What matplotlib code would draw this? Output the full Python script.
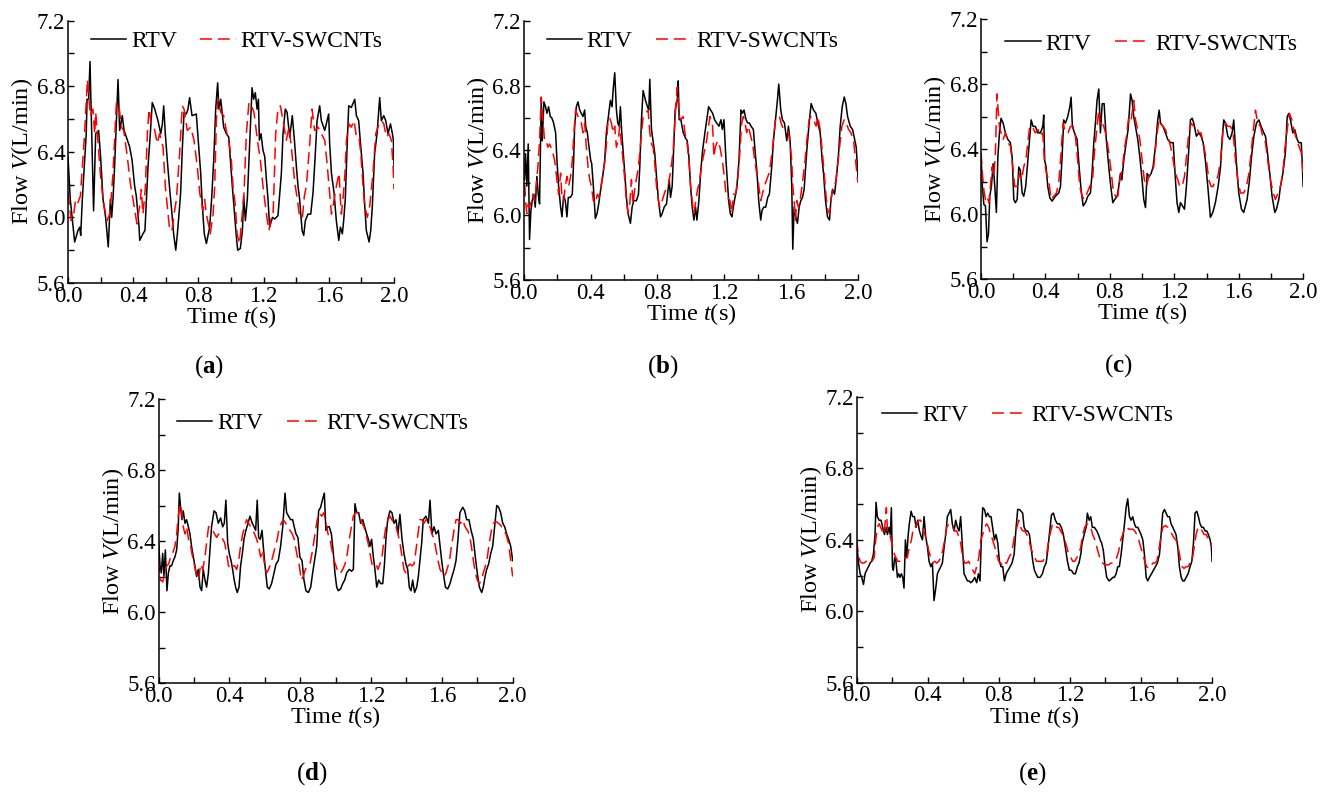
import matplotlib
matplotlib.use('Agg')
import matplotlib.pyplot as plt
from matplotlib.ticker import MultipleLocator

# panel (a)
a_t_rtv = [0.000, 0.014, 0.041, 0.061, 0.072, 0.078, 0.088, 0.102, 0.112, 0.117, 0.127, 0.135, 0.157, 0.170, 0.188,
           0.200, 0.215, 0.231, 0.247, 0.260, 0.268, 0.276, 0.286, 0.294, 0.307, 0.317, 0.333, 0.344, 0.358, 0.378,
           0.393, 0.409, 0.419, 0.436, 0.440, 0.460, 0.472, 0.481, 0.491, 0.505, 0.517, 0.532, 0.552, 0.569, 0.579,
           0.587, 0.597, 0.609, 0.624, 0.638, 0.648, 0.661, 0.671, 0.681, 0.691, 0.701, 0.712, 0.726, 0.736, 0.746,
           0.761, 0.787, 0.802, 0.814, 0.824, 0.836, 0.849, 0.861, 0.869, 0.881, 0.894, 0.906, 0.918, 0.926, 0.937,
           0.955, 0.971, 0.986, 0.996, 1.008, 1.022, 1.033, 1.041, 1.057, 1.070, 1.078, 1.088, 1.100, 1.110, 1.119,
           1.129, 1.139, 1.149, 1.160, 1.168, 1.174, 1.184, 1.196, 1.207, 1.217, 1.227, 1.237, 1.254, 1.268, 1.288,
           1.299, 1.309, 1.319, 1.333, 1.344, 1.360, 1.376, 1.389, 1.401, 1.411, 1.421, 1.436, 1.446, 1.456, 1.472,
           1.489, 1.503, 1.515, 1.528, 1.544, 1.554, 1.575, 1.599, 1.605, 1.616, 1.632, 1.646, 1.661, 1.671, 1.683,
           1.691, 1.701, 1.712, 1.722, 1.738, 1.759, 1.769, 1.783, 1.796, 1.810, 1.818, 1.830, 1.847, 1.857, 1.867,
           1.881, 1.896, 1.912, 1.922, 1.937, 1.949, 1.963, 1.978, 1.990, 1.996, 2.000]
a_rtv = [6.37, 6.11, 5.85, 5.92, 5.94, 5.89, 6.11, 6.35, 6.51, 6.72, 6.72, 6.95, 6.04, 6.51, 6.53,
         6.37, 6.11, 6.00, 5.82, 6.11, 6.00, 6.11, 6.31, 6.51, 6.84, 6.53, 6.62, 6.53, 6.49, 6.43,
         6.35, 6.19, 6.13, 5.94, 5.86, 5.90, 5.92, 6.11, 6.31, 6.51, 6.70, 6.66, 6.59, 6.51, 6.57,
         6.68, 6.51, 6.35, 6.17, 6.02, 5.90, 5.80, 5.90, 6.02, 6.15, 6.41, 6.64, 6.63, 6.66, 6.73,
         6.62, 6.63, 6.43, 6.27, 6.07, 5.90, 5.84, 5.90, 5.94, 6.11, 6.35, 6.66, 6.82, 6.66, 6.72,
         6.55, 6.51, 6.49, 6.35, 6.19, 6.02, 5.88, 5.80, 5.81, 5.92, 6.13, 5.98, 6.11, 6.35, 6.55,
         6.79, 6.72, 6.76, 6.66, 6.72, 6.47, 6.51, 6.41, 6.37, 6.23, 6.11, 5.94, 6.00, 5.99, 6.01,
         6.15, 6.27, 6.51, 6.66, 6.64, 6.49, 6.62, 6.47, 6.31, 6.19, 6.11, 5.92, 5.89, 5.98, 6.02,
         6.02, 6.15, 6.35, 6.59, 6.68, 6.59, 6.53, 6.63, 6.45, 6.27, 6.15, 5.98, 5.86, 5.94, 5.90,
         5.98, 6.11, 6.43, 6.68, 6.67, 6.72, 6.62, 6.59, 6.43, 6.27, 6.11, 5.92, 5.85, 5.92, 6.07,
         6.39, 6.51, 6.73, 6.59, 6.62, 6.59, 6.51, 6.57, 6.51, 6.47, 6.31]
a_t_cnt = [0.000, 0.020, 0.035, 0.047, 0.061, 0.076, 0.088, 0.102, 0.119, 0.137, 0.153, 0.164, 0.170, 0.188, 0.200,
           0.215, 0.231, 0.239, 0.256, 0.266, 0.276, 0.286, 0.297, 0.313, 0.327, 0.342, 0.364, 0.382, 0.399, 0.423,
           0.440, 0.450, 0.460, 0.474, 0.487, 0.497, 0.511, 0.528, 0.548, 0.562, 0.583, 0.597, 0.609, 0.624, 0.638,
           0.654, 0.665, 0.685, 0.701, 0.712, 0.732, 0.753, 0.773, 0.793, 0.808, 0.828, 0.838, 0.849, 0.873, 0.890,
           0.900, 0.910, 0.920, 0.937, 0.955, 0.971, 0.992, 1.002, 1.012, 1.027, 1.037, 1.053, 1.067, 1.080, 1.094,
           1.110, 1.125, 1.141, 1.162, 1.180, 1.196, 1.211, 1.223, 1.233, 1.247, 1.258, 1.264, 1.274, 1.288, 1.303,
           1.319, 1.339, 1.356, 1.372, 1.391, 1.407, 1.421, 1.438, 1.450, 1.462, 1.483, 1.497, 1.513, 1.534, 1.554,
           1.575, 1.591, 1.605, 1.616, 1.626, 1.646, 1.663, 1.671, 1.677, 1.687, 1.699, 1.708, 1.724, 1.738, 1.755,
           1.769, 1.785, 1.796, 1.810, 1.820, 1.836, 1.851, 1.871, 1.888, 1.908, 1.922, 1.937, 1.953, 1.969, 1.984,
           1.994, 2.000]
a_cnt = [6.15, 5.98, 6.02, 6.11, 6.09, 6.13, 6.31, 6.51, 6.84, 6.62, 6.66, 6.51, 6.64, 6.41, 6.25,
         6.11, 6.02, 5.98, 6.02, 6.13, 6.27, 6.47, 6.70, 6.68, 6.55, 6.53, 6.37, 6.21, 6.11, 5.96,
         6.07, 6.17, 6.02, 6.17, 6.51, 6.66, 6.57, 6.55, 6.45, 6.51, 6.43, 6.19, 6.07, 5.92, 5.92,
         6.04, 6.11, 6.39, 6.68, 6.66, 6.53, 6.55, 6.47, 6.31, 6.15, 6.04, 6.11, 6.02, 5.90, 6.02,
         6.19, 6.59, 6.72, 6.64, 6.62, 6.53, 6.43, 6.35, 6.19, 6.07, 5.90, 5.84, 6.00, 6.15, 6.51,
         6.70, 6.68, 6.64, 6.47, 6.35, 6.19, 6.07, 5.98, 5.92, 6.00, 6.02, 6.19, 6.51, 6.66, 6.68,
         6.59, 6.47, 6.55, 6.41, 6.21, 6.11, 6.00, 6.00, 6.13, 6.19, 6.45, 6.66, 6.53, 6.55, 6.51,
         6.47, 6.31, 6.15, 6.02, 6.07, 6.19, 6.27, 6.11, 6.02, 6.11, 6.27, 6.47, 6.57, 6.55, 6.59,
         6.49, 6.49, 6.39, 6.19, 6.07, 6.00, 6.07, 6.27, 6.51, 6.57, 6.59, 6.57, 6.49, 6.51, 6.47,
         6.31, 6.17]

# panel (b)
b_t_rtv = [0.004, 0.010, 0.018, 0.026, 0.034, 0.042, 0.050, 0.060, 0.068, 0.078, 0.086, 0.094, 0.104, 0.110, 0.120,
           0.130, 0.138, 0.148, 0.158, 0.168, 0.178, 0.190, 0.198, 0.208, 0.220, 0.228, 0.238, 0.248, 0.258, 0.266,
           0.278, 0.290, 0.298, 0.304, 0.314, 0.324, 0.334, 0.344, 0.354, 0.364, 0.370, 0.380, 0.390, 0.400, 0.406,
           0.416, 0.428, 0.438, 0.448, 0.460, 0.472, 0.484, 0.494, 0.508, 0.518, 0.528, 0.534, 0.544, 0.554, 0.562,
           0.570, 0.578, 0.586, 0.594, 0.604, 0.614, 0.624, 0.638, 0.648, 0.658, 0.674, 0.686, 0.694, 0.704, 0.714,
           0.728, 0.740, 0.748, 0.754, 0.764, 0.776, 0.784, 0.794, 0.806, 0.818, 0.828, 0.840, 0.854, 0.870, 0.878,
           0.888, 0.894, 0.906, 0.918, 0.924, 0.930, 0.940, 0.954, 0.966, 0.978, 0.988, 0.998, 1.008, 1.018, 1.028,
           1.036, 1.048, 1.058, 1.070, 1.084, 1.106, 1.118, 1.130, 1.142, 1.154, 1.168, 1.180, 1.188, 1.198, 1.210,
           1.220, 1.226, 1.236, 1.246, 1.254, 1.264, 1.274, 1.288, 1.300, 1.308, 1.318, 1.330, 1.340, 1.350, 1.360,
           1.374, 1.384, 1.396, 1.406, 1.418, 1.426, 1.436, 1.448, 1.460, 1.470, 1.484, 1.494, 1.510, 1.518, 1.526,
           1.538, 1.548, 1.560, 1.574, 1.584, 1.594, 1.604, 1.610, 1.618, 1.628, 1.638, 1.648, 1.658, 1.668, 1.678,
           1.694, 1.708, 1.720, 1.734, 1.748, 1.760, 1.774, 1.786, 1.794, 1.806, 1.818, 1.830, 1.838, 1.848, 1.860,
           1.870, 1.884, 1.894, 1.906, 1.918, 1.928, 1.938, 1.954, 1.968, 1.978, 1.990, 2.000]
b_rtv = [6.22, 6.38, 6.18, 6.44, 5.85, 6.03, 6.09, 6.13, 6.05, 6.24, 6.13, 6.07, 6.71, 6.46, 6.70,
         6.67, 6.63, 6.67, 6.61, 6.60, 6.57, 6.51, 6.34, 6.18, 6.05, 5.99, 6.12, 6.09, 5.99, 6.11,
         6.11, 6.13, 6.34, 6.55, 6.67, 6.70, 6.65, 6.63, 6.61, 6.65, 6.55, 6.51, 6.42, 6.34, 6.32,
         6.18, 5.98, 6.01, 6.07, 6.16, 6.24, 6.34, 6.51, 6.63, 6.71, 6.67, 6.77, 6.88, 6.65, 6.57,
         6.55, 6.67, 6.51, 6.40, 6.26, 6.11, 6.01, 5.95, 6.05, 6.09, 6.09, 6.13, 6.30, 6.59, 6.77,
         6.71, 6.67, 6.65, 6.84, 6.53, 6.44, 6.38, 6.24, 6.09, 5.99, 6.01, 6.05, 6.07, 6.22, 6.11,
         6.18, 6.34, 6.65, 6.71, 6.83, 6.59, 6.59, 6.51, 6.48, 6.46, 6.36, 6.18, 6.05, 5.97, 6.05,
         5.97, 6.09, 6.26, 6.40, 6.51, 6.67, 6.65, 6.63, 6.59, 6.57, 6.55, 6.59, 6.53, 6.59, 6.34,
         6.18, 6.09, 6.01, 5.99, 6.05, 6.11, 6.16, 6.34, 6.65, 6.63, 6.65, 6.59, 6.57, 6.57, 6.55,
         6.53, 6.40, 6.26, 6.09, 5.97, 6.03, 6.05, 6.05, 6.11, 6.13, 6.30, 6.46, 6.63, 6.71, 6.81,
         6.65, 6.59, 6.57, 6.46, 6.55, 6.46, 6.18, 5.79, 6.05, 5.99, 5.95, 6.05, 6.09, 6.11, 6.16,
         6.40, 6.57, 6.69, 6.65, 6.63, 6.57, 6.51, 6.34, 6.26, 6.09, 5.99, 5.97, 6.09, 6.16, 6.13,
         6.22, 6.38, 6.55, 6.67, 6.73, 6.69, 6.61, 6.55, 6.53, 6.48, 6.42, 6.24]
b_t_cnt = [0.000, 0.010, 0.018, 0.026, 0.034, 0.044, 0.054, 0.064, 0.074, 0.084, 0.094, 0.104, 0.114, 0.124, 0.134,
           0.144, 0.154, 0.170, 0.184, 0.198, 0.208, 0.220, 0.228, 0.238, 0.248, 0.258, 0.268, 0.280, 0.290, 0.300,
           0.310, 0.324, 0.334, 0.344, 0.354, 0.364, 0.374, 0.384, 0.394, 0.404, 0.416, 0.428, 0.440, 0.450, 0.462,
           0.474, 0.486, 0.496, 0.504, 0.514, 0.524, 0.534, 0.544, 0.554, 0.564, 0.574, 0.584, 0.594, 0.604, 0.614,
           0.624, 0.634, 0.644, 0.654, 0.666, 0.680, 0.690, 0.702, 0.714, 0.730, 0.744, 0.754, 0.764, 0.774, 0.784,
           0.794, 0.806, 0.814, 0.828, 0.840, 0.850, 0.864, 0.880, 0.894, 0.908, 0.918, 0.930, 0.940, 0.954, 0.964,
           0.978, 0.988, 0.998, 1.010, 1.018, 1.030, 1.040, 1.050, 1.064, 1.074, 1.094, 1.114, 1.130, 1.138, 1.146,
           1.160, 1.174, 1.188, 1.200, 1.210, 1.220, 1.234, 1.246, 1.254, 1.268, 1.280, 1.290, 1.304, 1.314, 1.324,
           1.334, 1.344, 1.360, 1.370, 1.382, 1.394, 1.404, 1.418, 1.428, 1.440, 1.454, 1.468, 1.480, 1.494, 1.506,
           1.518, 1.530, 1.540, 1.554, 1.574, 1.584, 1.594, 1.604, 1.610, 1.618, 1.626, 1.634, 1.644, 1.654, 1.670,
           1.684, 1.694, 1.708, 1.720, 1.734, 1.750, 1.760, 1.774, 1.786, 1.798, 1.810, 1.820, 1.830, 1.840, 1.854,
           1.866, 1.878, 1.890, 1.904, 1.918, 1.930, 1.944, 1.958, 1.974, 1.986, 2.000]
b_cnt = [6.30, 6.09, 6.01, 6.07, 6.05, 6.09, 6.13, 6.09, 6.18, 6.30, 6.46, 6.73, 6.59, 6.46, 6.46,
         6.42, 6.44, 6.40, 6.34, 6.22, 6.13, 6.26, 6.11, 6.09, 6.18, 6.24, 6.18, 6.24, 6.34, 6.51,
         6.65, 6.61, 6.59, 6.57, 6.51, 6.57, 6.42, 6.30, 6.22, 6.18, 6.09, 6.07, 6.13, 6.11, 6.18,
         6.26, 6.34, 6.46, 6.59, 6.60, 6.57, 6.51, 6.55, 6.42, 6.46, 6.55, 6.44, 6.34, 6.22, 6.09,
         6.01, 6.07, 6.22, 6.07, 6.18, 6.26, 6.34, 6.48, 6.61, 6.63, 6.65, 6.51, 6.44, 6.42, 6.32,
         6.18, 6.09, 6.05, 6.09, 6.13, 6.16, 6.18, 6.28, 6.40, 6.65, 6.79, 6.61, 6.59, 6.61, 6.51,
         6.44, 6.34, 6.18, 6.07, 6.01, 6.09, 6.16, 6.20, 6.30, 6.36, 6.46, 6.61, 6.55, 6.36, 6.42,
         6.46, 6.42, 6.34, 6.24, 6.13, 6.11, 6.09, 6.01, 6.13, 6.13, 6.22, 6.34, 6.57, 6.61, 6.57,
         6.51, 6.55, 6.48, 6.44, 6.34, 6.26, 6.20, 6.09, 6.13, 6.18, 6.22, 6.26, 6.34, 6.46, 6.59,
         6.61, 6.61, 6.57, 6.53, 6.53, 6.51, 6.44, 6.34, 6.18, 6.09, 5.97, 6.09, 6.05, 6.09, 6.22,
         6.34, 6.46, 6.59, 6.61, 6.59, 6.55, 6.61, 6.53, 6.40, 6.26, 6.11, 6.03, 6.01, 6.11, 6.18,
         6.20, 6.30, 6.42, 6.55, 6.59, 6.57, 6.53, 6.51, 6.46, 6.34, 6.20]

# panel (c)
c_t_rtv = [0.000, 0.008, 0.017, 0.027, 0.037, 0.046, 0.054, 0.064, 0.075, 0.085, 0.095, 0.104, 0.114, 0.124, 0.137,
           0.151, 0.166, 0.182, 0.193, 0.203, 0.213, 0.224, 0.234, 0.244, 0.255, 0.265, 0.277, 0.290, 0.300, 0.311,
           0.323, 0.337, 0.352, 0.369, 0.383, 0.389, 0.395, 0.404, 0.414, 0.427, 0.441, 0.462, 0.482, 0.493, 0.503,
           0.513, 0.524, 0.538, 0.551, 0.559, 0.567, 0.580, 0.596, 0.609, 0.621, 0.634, 0.648, 0.663, 0.679, 0.689,
           0.700, 0.710, 0.720, 0.731, 0.741, 0.752, 0.764, 0.776, 0.789, 0.803, 0.818, 0.830, 0.845, 0.855, 0.865,
           0.874, 0.886, 0.901, 0.913, 0.928, 0.938, 0.948, 0.959, 0.973, 0.986, 1.000, 1.010, 1.021, 1.031, 1.043,
           1.056, 1.068, 1.083, 1.097, 1.106, 1.114, 1.130, 1.145, 1.159, 1.176, 1.193, 1.207, 1.217, 1.228, 1.238,
           1.251, 1.263, 1.275, 1.290, 1.300, 1.311, 1.321, 1.337, 1.352, 1.366, 1.379, 1.393, 1.408, 1.424, 1.439,
           1.455, 1.472, 1.487, 1.497, 1.507, 1.518, 1.532, 1.545, 1.559, 1.569, 1.586, 1.600, 1.617, 1.631, 1.652,
           1.667, 1.679, 1.694, 1.710, 1.725, 1.739, 1.756, 1.766, 1.776, 1.793, 1.807, 1.824, 1.834, 1.849, 1.859,
           1.874, 1.890, 1.901, 1.911, 1.921, 1.936, 1.948, 1.963, 1.973, 1.988, 1.994, 2.000]
c_rtv = [6.35, 6.17, 6.06, 6.05, 5.83, 5.88, 6.11, 6.17, 6.31, 6.17, 6.01, 6.35, 6.50, 6.59, 6.56,
         6.50, 6.46, 6.44, 6.35, 6.09, 6.07, 6.09, 6.29, 6.27, 6.13, 6.11, 6.17, 6.33, 6.46, 6.58,
         6.54, 6.54, 6.50, 6.50, 6.54, 6.61, 6.33, 6.29, 6.17, 6.10, 6.08, 6.11, 6.13, 6.17, 6.35,
         6.58, 6.56, 6.60, 6.66, 6.72, 6.54, 6.50, 6.46, 6.29, 6.15, 6.05, 6.07, 6.11, 6.13, 6.25,
         6.44, 6.56, 6.70, 6.77, 6.50, 6.68, 6.68, 6.48, 6.33, 6.19, 6.07, 6.09, 6.11, 6.17, 6.25,
         6.21, 6.33, 6.44, 6.52, 6.74, 6.70, 6.60, 6.54, 6.46, 6.35, 6.21, 6.09, 6.04, 6.25, 6.23,
         6.25, 6.29, 6.42, 6.58, 6.64, 6.56, 6.54, 6.50, 6.46, 6.44, 6.44, 6.21, 6.07, 6.01, 6.07,
         6.05, 6.03, 6.17, 6.40, 6.58, 6.59, 6.56, 6.48, 6.50, 6.48, 6.44, 6.33, 6.17, 5.98, 6.01,
         6.07, 6.17, 6.29, 6.46, 6.58, 6.56, 6.48, 6.46, 6.50, 6.58, 6.31, 6.13, 6.03, 6.01, 6.09,
         6.21, 6.35, 6.48, 6.56, 6.58, 6.54, 6.50, 6.48, 6.40, 6.25, 6.11, 6.01, 6.03, 6.09, 6.17,
         6.25, 6.38, 6.60, 6.62, 6.58, 6.50, 6.52, 6.46, 6.44, 6.44, 6.33, 6.17]
c_t_cnt = [0.000, 0.008, 0.017, 0.027, 0.037, 0.048, 0.058, 0.068, 0.079, 0.089, 0.099, 0.106, 0.114, 0.124, 0.137,
           0.151, 0.166, 0.182, 0.197, 0.209, 0.224, 0.238, 0.251, 0.265, 0.280, 0.290, 0.302, 0.317, 0.337, 0.354,
           0.369, 0.383, 0.393, 0.406, 0.420, 0.435, 0.451, 0.468, 0.482, 0.493, 0.509, 0.524, 0.540, 0.555, 0.571,
           0.586, 0.600, 0.613, 0.627, 0.642, 0.658, 0.675, 0.692, 0.704, 0.716, 0.731, 0.741, 0.752, 0.762, 0.778,
           0.793, 0.807, 0.820, 0.834, 0.849, 0.861, 0.876, 0.890, 0.903, 0.917, 0.932, 0.948, 0.959, 0.973, 0.986,
           1.000, 1.014, 1.027, 1.041, 1.056, 1.072, 1.089, 1.104, 1.114, 1.130, 1.145, 1.159, 1.176, 1.193, 1.207,
           1.222, 1.234, 1.248, 1.263, 1.275, 1.290, 1.304, 1.321, 1.337, 1.352, 1.366, 1.383, 1.400, 1.414, 1.429,
           1.441, 1.455, 1.470, 1.487, 1.503, 1.518, 1.534, 1.549, 1.565, 1.580, 1.594, 1.611, 1.631, 1.648, 1.663,
           1.677, 1.689, 1.704, 1.718, 1.735, 1.749, 1.766, 1.780, 1.797, 1.814, 1.828, 1.843, 1.859, 1.874, 1.886,
           1.901, 1.915, 1.930, 1.942, 1.959, 1.973, 1.988, 2.000]
c_cnt = [6.38, 6.25, 6.15, 6.09, 6.11, 6.07, 6.17, 6.29, 6.23, 6.38, 6.74, 6.64, 6.54, 6.50, 6.46,
         6.50, 6.44, 6.42, 6.29, 6.17, 6.17, 6.25, 6.21, 6.29, 6.35, 6.44, 6.54, 6.54, 6.50, 6.52,
         6.48, 6.50, 6.33, 6.25, 6.21, 6.09, 6.11, 6.13, 6.19, 6.33, 6.56, 6.50, 6.50, 6.54, 6.54,
         6.48, 6.33, 6.17, 6.11, 6.09, 6.13, 6.17, 6.21, 6.38, 6.50, 6.64, 6.54, 6.56, 6.54, 6.48,
         6.38, 6.27, 6.15, 6.11, 6.11, 6.21, 6.27, 6.40, 6.48, 6.60, 6.58, 6.70, 6.58, 6.52, 6.46,
         6.33, 6.21, 6.17, 6.23, 6.25, 6.29, 6.46, 6.58, 6.56, 6.54, 6.52, 6.48, 6.42, 6.33, 6.25,
         6.21, 6.17, 6.17, 6.23, 6.35, 6.50, 6.56, 6.54, 6.54, 6.50, 6.50, 6.42, 6.33, 6.21, 6.17,
         6.17, 6.21, 6.23, 6.33, 6.52, 6.56, 6.54, 6.54, 6.50, 6.33, 6.21, 6.13, 6.13, 6.17, 6.25,
         6.38, 6.50, 6.64, 6.56, 6.54, 6.48, 6.44, 6.33, 6.21, 6.13, 6.09, 6.13, 6.17, 6.25, 6.40,
         6.52, 6.62, 6.58, 6.52, 6.46, 6.42, 6.38, 6.25]

# panel (d)
d_t_rtv = [0.000, 0.008, 0.015, 0.023, 0.030, 0.038, 0.047, 0.055, 0.064, 0.073, 0.083, 0.092, 0.102, 0.111, 0.117,
           0.124, 0.132, 0.139, 0.149, 0.158, 0.168, 0.177, 0.186, 0.196, 0.205, 0.215, 0.224, 0.234, 0.243, 0.252,
           0.262, 0.271, 0.281, 0.290, 0.299, 0.313, 0.324, 0.337, 0.350, 0.362, 0.371, 0.380, 0.390, 0.399, 0.409,
           0.418, 0.427, 0.435, 0.444, 0.454, 0.463, 0.473, 0.482, 0.493, 0.505, 0.516, 0.529, 0.539, 0.548, 0.557,
           0.565, 0.574, 0.584, 0.593, 0.603, 0.614, 0.625, 0.638, 0.652, 0.663, 0.676, 0.689, 0.701, 0.714, 0.723,
           0.734, 0.746, 0.757, 0.766, 0.776, 0.787, 0.798, 0.810, 0.821, 0.832, 0.846, 0.859, 0.870, 0.881, 0.893,
           0.904, 0.915, 0.925, 0.936, 0.945, 0.955, 0.964, 0.976, 0.987, 0.996, 1.006, 1.015, 1.028, 1.040, 1.051,
           1.062, 1.077, 1.090, 1.100, 1.109, 1.119, 1.130, 1.141, 1.153, 1.164, 1.175, 1.185, 1.194, 1.203, 1.213,
           1.222, 1.232, 1.243, 1.254, 1.266, 1.275, 1.284, 1.294, 1.307, 1.318, 1.330, 1.341, 1.352, 1.363, 1.375,
           1.386, 1.397, 1.407, 1.416, 1.426, 1.435, 1.446, 1.458, 1.467, 1.476, 1.486, 1.495, 1.510, 1.524, 1.533,
           1.544, 1.556, 1.567, 1.580, 1.590, 1.599, 1.608, 1.620, 1.633, 1.646, 1.657, 1.669, 1.680, 1.691, 1.702,
           1.718, 1.729, 1.740, 1.753, 1.765, 1.778, 1.789, 1.800, 1.812, 1.825, 1.834, 1.844, 1.853, 1.864, 1.876,
           1.887, 1.898, 1.910, 1.921, 1.932, 1.944, 1.955, 1.966, 1.977, 1.989, 2.000]
d_rtv = [6.39, 6.26, 6.22, 6.33, 6.20, 6.35, 6.12, 6.22, 6.26, 6.26, 6.29, 6.31, 6.35, 6.48, 6.67,
         6.59, 6.52, 6.57, 6.50, 6.52, 6.48, 6.44, 6.37, 6.31, 6.26, 6.20, 6.24, 6.14, 6.12, 6.24,
         6.18, 6.14, 6.22, 6.35, 6.48, 6.57, 6.56, 6.50, 6.53, 6.48, 6.50, 6.63, 6.39, 6.33, 6.29,
         6.24, 6.18, 6.14, 6.11, 6.14, 6.26, 6.33, 6.41, 6.46, 6.50, 6.54, 6.50, 6.48, 6.46, 6.63,
         6.42, 6.41, 6.46, 6.35, 6.24, 6.14, 6.13, 6.16, 6.22, 6.27, 6.29, 6.37, 6.48, 6.67, 6.56,
         6.54, 6.52, 6.52, 6.48, 6.44, 6.42, 6.31, 6.29, 6.18, 6.12, 6.11, 6.14, 6.22, 6.29, 6.37,
         6.57, 6.59, 6.63, 6.67, 6.46, 6.48, 6.48, 6.44, 6.33, 6.22, 6.14, 6.12, 6.13, 6.16, 6.18,
         6.22, 6.24, 6.23, 6.24, 6.61, 6.56, 6.56, 6.50, 6.52, 6.48, 6.44, 6.41, 6.37, 6.41, 6.31,
         6.24, 6.14, 6.18, 6.16, 6.16, 6.26, 6.41, 6.52, 6.57, 6.56, 6.50, 6.52, 6.44, 6.55, 6.41,
         6.33, 6.27, 6.24, 6.14, 6.12, 6.18, 6.11, 6.14, 6.20, 6.29, 6.39, 6.52, 6.54, 6.50, 6.63,
         6.44, 6.48, 6.44, 6.46, 6.37, 6.29, 6.22, 6.14, 6.13, 6.16, 6.20, 6.24, 6.29, 6.41, 6.56,
         6.59, 6.57, 6.52, 6.52, 6.46, 6.41, 6.31, 6.22, 6.14, 6.11, 6.14, 6.20, 6.24, 6.27, 6.33,
         6.37, 6.48, 6.60, 6.59, 6.56, 6.50, 6.48, 6.44, 6.41, 6.37, 6.29]
d_t_cnt = [0.000, 0.011, 0.023, 0.034, 0.045, 0.056, 0.068, 0.079, 0.092, 0.102, 0.111, 0.121, 0.130, 0.139, 0.149,
           0.158, 0.169, 0.181, 0.192, 0.203, 0.215, 0.226, 0.237, 0.249, 0.262, 0.271, 0.282, 0.294, 0.305, 0.316,
           0.328, 0.339, 0.350, 0.362, 0.373, 0.384, 0.395, 0.407, 0.418, 0.429, 0.441, 0.452, 0.463, 0.475, 0.486,
           0.497, 0.508, 0.520, 0.531, 0.542, 0.554, 0.565, 0.576, 0.588, 0.599, 0.610, 0.621, 0.633, 0.644, 0.659,
           0.670, 0.682, 0.693, 0.704, 0.718, 0.729, 0.742, 0.755, 0.766, 0.780, 0.795, 0.806, 0.817, 0.829, 0.840,
           0.855, 0.870, 0.883, 0.896, 0.908, 0.921, 0.934, 0.945, 0.957, 0.968, 0.979, 0.991, 1.002, 1.015, 1.028,
           1.040, 1.053, 1.066, 1.077, 1.089, 1.100, 1.113, 1.124, 1.137, 1.149, 1.160, 1.171, 1.183, 1.194, 1.205,
           1.217, 1.228, 1.239, 1.250, 1.262, 1.273, 1.284, 1.296, 1.307, 1.318, 1.330, 1.341, 1.352, 1.363, 1.375,
           1.386, 1.397, 1.409, 1.420, 1.431, 1.443, 1.454, 1.465, 1.476, 1.488, 1.499, 1.510, 1.522, 1.533, 1.544,
           1.556, 1.567, 1.578, 1.590, 1.601, 1.612, 1.623, 1.635, 1.646, 1.657, 1.669, 1.680, 1.691, 1.706, 1.718,
           1.731, 1.744, 1.755, 1.767, 1.778, 1.789, 1.800, 1.812, 1.823, 1.834, 1.846, 1.857, 1.868, 1.880, 1.891,
           1.906, 1.919, 1.932, 1.947, 1.962, 1.976, 1.989, 2.000]
d_cnt = [6.29, 6.18, 6.17, 6.22, 6.26, 6.27, 6.31, 6.33, 6.37, 6.44, 6.54, 6.61, 6.57, 6.48, 6.44,
         6.48, 6.41, 6.37, 6.31, 6.26, 6.20, 6.18, 6.27, 6.24, 6.31, 6.39, 6.48, 6.48, 6.46, 6.44,
         6.42, 6.44, 6.44, 6.41, 6.39, 6.33, 6.26, 6.24, 6.26, 6.26, 6.24, 6.29, 6.37, 6.44, 6.48,
         6.52, 6.50, 6.48, 6.46, 6.44, 6.41, 6.37, 6.31, 6.35, 6.26, 6.22, 6.24, 6.27, 6.31, 6.37,
         6.41, 6.48, 6.50, 6.52, 6.50, 6.48, 6.46, 6.44, 6.41, 6.33, 6.26, 6.18, 6.20, 6.24, 6.26,
         6.27, 6.35, 6.44, 6.52, 6.56, 6.54, 6.56, 6.50, 6.44, 6.41, 6.35, 6.29, 6.26, 6.22, 6.22,
         6.24, 6.27, 6.33, 6.41, 6.48, 6.54, 6.56, 6.56, 6.54, 6.50, 6.48, 6.44, 6.39, 6.33, 6.27,
         6.26, 6.27, 6.24, 6.27, 6.31, 6.41, 6.48, 6.52, 6.54, 6.52, 6.50, 6.48, 6.44, 6.39, 6.31,
         6.24, 6.22, 6.26, 6.27, 6.26, 6.27, 6.35, 6.44, 6.52, 6.52, 6.50, 6.52, 6.50, 6.48, 6.44,
         6.41, 6.35, 6.29, 6.24, 6.22, 6.20, 6.22, 6.26, 6.31, 6.39, 6.46, 6.52, 6.52, 6.50, 6.52,
         6.48, 6.46, 6.44, 6.37, 6.29, 6.22, 6.18, 6.16, 6.18, 6.22, 6.26, 6.31, 6.39, 6.46, 6.50,
         6.51, 6.50, 6.49, 6.46, 6.44, 6.39, 6.29, 6.20]

# panel (e)
e_t_rtv = [0.000, 0.009, 0.019, 0.028, 0.038, 0.047, 0.056, 0.066, 0.075, 0.084, 0.094, 0.103, 0.109, 0.116, 0.126,
           0.137, 0.146, 0.156, 0.165, 0.173, 0.182, 0.189, 0.195, 0.201, 0.206, 0.214, 0.221, 0.229, 0.236, 0.244,
           0.251, 0.259, 0.266, 0.274, 0.281, 0.289, 0.296, 0.306, 0.315, 0.325, 0.334, 0.343, 0.353, 0.362, 0.370,
           0.379, 0.388, 0.398, 0.407, 0.417, 0.426, 0.435, 0.445, 0.454, 0.463, 0.473, 0.482, 0.492, 0.501, 0.510,
           0.520, 0.529, 0.538, 0.548, 0.557, 0.567, 0.576, 0.585, 0.595, 0.604, 0.614, 0.623, 0.632, 0.642, 0.653,
           0.664, 0.675, 0.685, 0.694, 0.702, 0.709, 0.719, 0.728, 0.737, 0.747, 0.756, 0.765, 0.775, 0.784, 0.794,
           0.803, 0.812, 0.822, 0.831, 0.841, 0.852, 0.863, 0.874, 0.886, 0.897, 0.906, 0.916, 0.925, 0.934, 0.942,
           0.953, 0.962, 0.972, 0.981, 0.991, 1.000, 1.009, 1.019, 1.032, 1.045, 1.056, 1.066, 1.075, 1.084, 1.096,
           1.107, 1.118, 1.129, 1.141, 1.152, 1.163, 1.174, 1.186, 1.197, 1.208, 1.220, 1.231, 1.242, 1.251, 1.261,
           1.268, 1.280, 1.291, 1.298, 1.308, 1.317, 1.326, 1.338, 1.351, 1.360, 1.370, 1.379, 1.388, 1.398, 1.407,
           1.420, 1.432, 1.441, 1.450, 1.460, 1.469, 1.478, 1.488, 1.497, 1.507, 1.516, 1.525, 1.535, 1.544, 1.553,
           1.563, 1.572, 1.582, 1.591, 1.600, 1.610, 1.619, 1.629, 1.638, 1.647, 1.659, 1.670, 1.681, 1.692, 1.704,
           1.713, 1.722, 1.732, 1.741, 1.750, 1.760, 1.769, 1.779, 1.788, 1.797, 1.807, 1.816, 1.826, 1.835, 1.844,
           1.854, 1.865, 1.876, 1.886, 1.895, 1.904, 1.914, 1.923, 1.932, 1.942, 1.951, 1.961, 1.970, 1.979, 1.989,
           1.996, 2.000]
e_rtv = [6.38, 6.28, 6.21, 6.19, 6.15, 6.21, 6.23, 6.25, 6.27, 6.28, 6.32, 6.43, 6.61, 6.53, 6.51,
         6.51, 6.47, 6.43, 6.47, 6.43, 6.47, 6.43, 6.58, 6.25, 6.23, 6.30, 6.28, 6.19, 6.21, 6.19,
         6.21, 6.19, 6.13, 6.40, 6.30, 6.42, 6.49, 6.56, 6.53, 6.53, 6.47, 6.51, 6.45, 6.42, 6.40,
         6.53, 6.42, 6.36, 6.28, 6.25, 6.27, 6.06, 6.13, 6.21, 6.23, 6.25, 6.27, 6.36, 6.43, 6.53,
         6.55, 6.57, 6.49, 6.45, 6.51, 6.47, 6.45, 6.53, 6.36, 6.21, 6.19, 6.17, 6.17, 6.16, 6.17,
         6.19, 6.16, 6.21, 6.17, 6.43, 6.58, 6.57, 6.53, 6.55, 6.53, 6.53, 6.47, 6.40, 6.43, 6.38,
         6.28, 6.25, 6.25, 6.17, 6.21, 6.23, 6.25, 6.27, 6.32, 6.47, 6.57, 6.57, 6.56, 6.55, 6.47,
         6.45, 6.45, 6.43, 6.36, 6.28, 6.23, 6.21, 6.19, 6.19, 6.21, 6.25, 6.27, 6.34, 6.43, 6.54,
         6.55, 6.51, 6.49, 6.49, 6.47, 6.43, 6.36, 6.28, 6.23, 6.23, 6.21, 6.21, 6.25, 6.27, 6.32,
         6.38, 6.43, 6.47, 6.55, 6.51, 6.53, 6.47, 6.47, 6.45, 6.43, 6.40, 6.38, 6.34, 6.25, 6.19,
         6.17, 6.18, 6.19, 6.19, 6.21, 6.25, 6.25, 6.32, 6.40, 6.49, 6.58, 6.63, 6.53, 6.51, 6.53,
         6.49, 6.47, 6.47, 6.45, 6.43, 6.40, 6.32, 6.19, 6.17, 6.19, 6.21, 6.23, 6.25, 6.27, 6.32,
         6.43, 6.55, 6.57, 6.55, 6.53, 6.53, 6.49, 6.47, 6.45, 6.43, 6.36, 6.25, 6.19, 6.17, 6.17,
         6.19, 6.21, 6.25, 6.28, 6.38, 6.55, 6.56, 6.53, 6.49, 6.47, 6.47, 6.45, 6.45, 6.43, 6.40,
         6.36, 6.28]
e_t_cnt = [0.000, 0.009, 0.019, 0.030, 0.041, 0.053, 0.064, 0.075, 0.086, 0.098, 0.107, 0.116, 0.126, 0.135, 0.144,
           0.154, 0.161, 0.167, 0.173, 0.182, 0.193, 0.203, 0.212, 0.221, 0.231, 0.240, 0.251, 0.263, 0.274, 0.285,
           0.296, 0.308, 0.319, 0.328, 0.338, 0.349, 0.360, 0.371, 0.383, 0.394, 0.405, 0.417, 0.428, 0.439, 0.450,
           0.462, 0.473, 0.484, 0.495, 0.507, 0.518, 0.529, 0.540, 0.552, 0.563, 0.574, 0.585, 0.597, 0.608, 0.619,
           0.630, 0.642, 0.653, 0.664, 0.675, 0.687, 0.698, 0.709, 0.720, 0.732, 0.743, 0.754, 0.765, 0.777, 0.788,
           0.799, 0.811, 0.822, 0.833, 0.844, 0.856, 0.867, 0.878, 0.889, 0.901, 0.912, 0.923, 0.934, 0.946, 0.957,
           0.968, 0.979, 0.991, 1.002, 1.013, 1.024, 1.036, 1.047, 1.058, 1.069, 1.081, 1.092, 1.103, 1.114, 1.126,
           1.137, 1.148, 1.159, 1.171, 1.182, 1.193, 1.205, 1.216, 1.227, 1.238, 1.250, 1.261, 1.272, 1.283, 1.295,
           1.306, 1.317, 1.328, 1.340, 1.351, 1.362, 1.373, 1.385, 1.396, 1.407, 1.418, 1.430, 1.441, 1.452, 1.463,
           1.475, 1.486, 1.497, 1.508, 1.520, 1.531, 1.542, 1.553, 1.565, 1.576, 1.587, 1.598, 1.610, 1.621, 1.632,
           1.644, 1.655, 1.666, 1.677, 1.689, 1.700, 1.711, 1.722, 1.737, 1.752, 1.764, 1.775, 1.786, 1.797, 1.809,
           1.820, 1.831, 1.842, 1.854, 1.865, 1.876, 1.887, 1.899, 1.910, 1.921, 1.932, 1.944, 1.955, 1.966, 1.977,
           1.989, 2.000]
e_cnt = [6.40, 6.32, 6.28, 6.27, 6.27, 6.28, 6.27, 6.28, 6.28, 6.30, 6.40, 6.47, 6.49, 6.47, 6.45,
         6.43, 6.51, 6.58, 6.45, 6.45, 6.40, 6.36, 6.32, 6.30, 6.28, 6.28, 6.28, 6.30, 6.30, 6.30,
         6.36, 6.40, 6.47, 6.47, 6.49, 6.51, 6.51, 6.47, 6.43, 6.40, 6.34, 6.30, 6.27, 6.28, 6.27,
         6.28, 6.30, 6.34, 6.40, 6.47, 6.49, 6.47, 6.47, 6.45, 6.45, 6.42, 6.38, 6.30, 6.27, 6.27,
         6.28, 6.25, 6.23, 6.21, 6.25, 6.30, 6.40, 6.43, 6.47, 6.49, 6.47, 6.43, 6.40, 6.36, 6.32,
         6.28, 6.27, 6.25, 6.27, 6.27, 6.30, 6.32, 6.36, 6.43, 6.47, 6.51, 6.47, 6.45, 6.45, 6.43,
         6.40, 6.36, 6.32, 6.30, 6.28, 6.28, 6.28, 6.28, 6.30, 6.32, 6.40, 6.45, 6.49, 6.49, 6.47,
         6.47, 6.45, 6.43, 6.40, 6.36, 6.32, 6.30, 6.28, 6.28, 6.30, 6.32, 6.36, 6.43, 6.47, 6.49,
         6.47, 6.47, 6.43, 6.40, 6.36, 6.32, 6.28, 6.27, 6.26, 6.26, 6.26, 6.27, 6.27, 6.28, 6.30,
         6.34, 6.40, 6.43, 6.47, 6.47, 6.46, 6.46, 6.46, 6.45, 6.43, 6.40, 6.36, 6.32, 6.28, 6.25,
         6.24, 6.25, 6.27, 6.27, 6.28, 6.34, 6.41, 6.47, 6.48, 6.47, 6.45, 6.43, 6.41, 6.40, 6.36,
         6.30, 6.25, 6.24, 6.25, 6.25, 6.27, 6.28, 6.36, 6.43, 6.47, 6.47, 6.45, 6.43, 6.43, 6.41,
         6.40, 6.36]

panel_letters = ['a', 'b', 'c', 'd', 'e']
panel_data = [
    (a_t_rtv, a_rtv, a_t_cnt, a_cnt),
    (b_t_rtv, b_rtv, b_t_cnt, b_cnt),
    (c_t_rtv, c_rtv, c_t_cnt, c_cnt),
    (d_t_rtv, d_rtv, d_t_cnt, d_cnt),
    (e_t_rtv, e_rtv, e_t_cnt, e_cnt),
]

plt.rcParams['font.family'] = 'Liberation Serif'
plt.rcParams['mathtext.fontset'] = 'custom'
plt.rcParams['mathtext.rm'] = 'Liberation Serif'
plt.rcParams['mathtext.it'] = 'Liberation Serif:italic'
plt.rcParams['mathtext.bf'] = 'Liberation Serif:bold'

fig = plt.figure(figsize=(13.33, 7.92), dpi=100)

# axes boxes [left, bottom, width, height], legend anchor, panel label position (px)
boxes = [[0.051, 0.6427, 0.2446, 0.3314],
         [0.393, 0.6465, 0.2506, 0.327],
         [0.736, 0.6477, 0.2416, 0.328],
         [0.119, 0.1376, 0.2656, 0.3586],
         [0.6427, 0.138, 0.2666, 0.3607]]
leg_pos = [(0.07, 0.92), (0.068, 0.92), (0.075, 0.905), (0.052, 0.915), (0.071, 0.937)]
lab_pos = [(209, 367), (663, 367), (1118, 366), (312, 774), (1032, 774)]

for i in range(5):
    t1, v1, t2, v2 = panel_data[i]
    ax = fig.add_axes(boxes[i])
    ax.plot(t1, v1, color='black', lw=1.1, label='RTV')
    ax.plot(t2, v2, color='red', lw=1.1, dashes=(7.8, 3.9), label='RTV-SWCNTs')
    ax.set_xlim(0, 2.0)
    ax.set_ylim(5.6, 7.2)
    ax.xaxis.set_major_locator(MultipleLocator(0.4))
    ax.xaxis.set_minor_locator(MultipleLocator(0.2))
    ax.yaxis.set_major_locator(MultipleLocator(0.4))
    ax.yaxis.set_minor_locator(MultipleLocator(0.2))
    ax.xaxis.set_major_formatter('{x:.1f}')
    ax.yaxis.set_major_formatter('{x:.1f}')
    ax.tick_params(which='both', direction='in', length=4, width=1.0, labelsize=16.5, pad=2)
    ax.spines['top'].set_visible(False)
    ax.spines['right'].set_visible(False)
    ax.spines['left'].set_linewidth(1.1)
    ax.spines['bottom'].set_linewidth(1.1)
    ax.set_xlabel(r'Time $t$(s)', fontsize=17.5, labelpad=-2)
    ax.set_ylabel(r'Flow $V$(L/min)', fontsize=17.5, labelpad=1)
    ax.legend(loc='center left', bbox_to_anchor=leg_pos[i], ncol=2, frameon=False,
              fontsize=17, handlelength=1.5, handletextpad=0.2, columnspacing=1.0,
              borderpad=0, borderaxespad=0)
    fig.text(lab_pos[i][0] / 1333, 1 - lab_pos[i][1] / 792, r'($\mathbf{' + panel_letters[i] + '}$)',
             ha='center', va='center', fontsize=18)

fig.savefig('out.png', dpi=100)
